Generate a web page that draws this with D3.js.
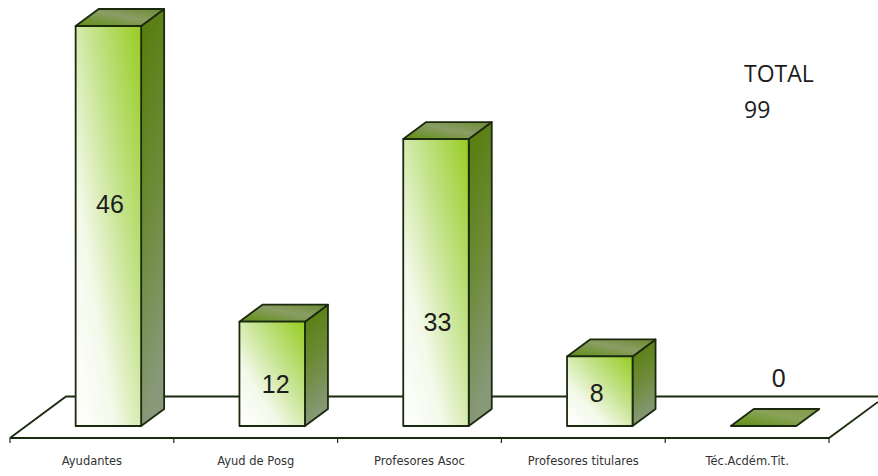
<!DOCTYPE html>
<html>
<head>
<meta charset="utf-8">
<script src="https://cdn.jsdelivr.net/npm/d3@7"></script>
<style>
  html, body { margin: 0; background: #fff; }
  svg { display: block; }
  .cat { font-family: "DejaVu Sans", sans-serif; font-size: 11.5px; fill: #333; text-anchor: middle; }
  .val { font-family: "Liberation Sans", Arial, sans-serif; font-size: 25px; fill: #1c1c1c; text-anchor: middle; dominant-baseline: central; }
  .total { font-family: "Open Sans", sans-serif; font-size: 23px; fill: #1c1c1c; }
</style>
</head>
<body>
<svg id="chart" width="878" height="476"></svg>
<script>
const categories = ["Ayudantes", "Ayud de Posg", "Profesores Asoc", "Profesores titulares", "Téc.Acdém.Tit."];
const values = [46, 12, 33, 8, 0];
const totalLines = ["TOTAL", "99"];

// Per-label placement relative to the bar's front face centre
const labelDx = [1.5, 3.5, 1.5, -3, 15];
const labelDy = [-22, 10, 39, 2, -48];

const floorFront = 438, floorBack = 396.5, floorLeft = 10, floorRight = 829;
const baseY = 426, barW = 65.5, depthX = 23, depthY = 17, barShift = 16.5;
const ink = "#1b2a0e";

const svg = d3.select("#chart");
const x = d3.scaleBand().domain(categories).range([floorLeft, floorRight]);
const y = d3.scaleLinear().domain([0, 46]).range([baseY, 26]);

const defs = svg.append("defs");
function gradient(id, p, stops) {
  const g = defs.append("linearGradient").attr("id", id)
    .attr("x1", p[0]).attr("y1", p[1]).attr("x2", p[2]).attr("y2", p[3]);
  stops.forEach(s => g.append("stop").attr("offset", s[0]).attr("stop-color", s[1]));
}
gradient("front", [0, 1, 1, 0], [[0, "#ffffff"], [0.3, "#f4f9ea"], [0.62, "#c4e38c"], [1, "#97cc22"]]);
gradient("side", [0, 0, 0.2, 1], [[0, "#557c0a"], [0.5, "#6c8a35"], [1, "#88997a"]]);
gradient("lid", [0, 1, 1, 0], [[0, "#5f8f12"], [0.55, "#8a9d66"], [1, "#6b8a2c"]]);
gradient("flat", [0, 1, 1, 0], [[0, "#5f8f12"], [0.6, "#8aa25a"], [1, "#7f9a48"]]);

// Floor plane, open where the bars stand in front of it
svg.append("path")
  .attr("d", d3.line()([[floorLeft, floorFront], [floorLeft + 56, floorBack], [878, floorBack]]))
  .attr("fill", "none").attr("stroke", ink).attr("stroke-width", 1.8);
svg.append("path")
  .attr("d", d3.line()([[floorLeft, floorFront], [floorRight, floorFront], [floorRight + 49, floorFront - 36]]))
  .attr("fill", "none").attr("stroke", ink).attr("stroke-width", 1.8);

// Category axis ticks and labels
const axis = d3.axisBottom(x).tickSize(0).tickPadding(0);
const ticks = x.domain().map(c => x(c)).concat(floorRight);
svg.selectAll(".tick-mark").data(ticks).join("line")
  .attr("class", "tick-mark")
  .attr("x1", d => d).attr("x2", d => d)
  .attr("y1", floorFront).attr("y2", floorFront + 5)
  .attr("stroke", ink).attr("stroke-width", 1.2);
svg.append("g").attr("transform", `translate(0,${floorFront})`).call(axis)
  .call(g => g.select(".domain").remove())
  .call(g => g.selectAll("text").attr("class", "cat").attr("y", 27).attr("dy", 0).attr("fill", null).attr("font-size", null).attr("font-family", null));

// Prism bars
const bars = svg.selectAll(".bar").data(categories.map((c, i) => ({ c, v: values[i], i })))
  .join("g").attr("class", "bar");

bars.each(function (d) {
  const g = d3.select(this);
  const cx = x(d.c) + x.bandwidth() / 2 + barShift;
  const l = cx - barW / 2, r = cx + barW / 2, t = y(d.v), b = y(0);
  const poly = pts => d3.line()(pts) + "Z";
  const stroke = sel => sel.attr("stroke", ink).attr("stroke-width", 1.8).attr("stroke-linejoin", "round");

  if (d.v === 0) {
    g.append("path").attr("d", poly([[l, b], [r, b], [r + depthX, b - depthY], [l + depthX, b - depthY]]))
      .attr("fill", "url(#flat)").call(stroke);
    return;
  }
  g.append("path").attr("d", poly([[r, t], [r + depthX, t - depthY], [r + depthX, b - depthY], [r, b]]))
    .attr("fill", "url(#side)").call(stroke);
  g.append("path").attr("d", poly([[l, t], [l + depthX, t - depthY], [r + depthX, t - depthY], [r, t]]))
    .attr("fill", "url(#lid)").call(stroke);
  g.append("rect").attr("x", l).attr("y", t).attr("width", barW).attr("height", b - t)
    .attr("fill", "url(#front)").call(stroke);
});

// Value labels
bars.append("text").attr("class", "val")
  .attr("x", d => x(d.c) + x.bandwidth() / 2 + barShift + labelDx[d.i])
  .attr("y", d => (y(d.v) + y(0)) / 2 + labelDy[d.i])
  .text(d => d.v);

// Total note
svg.append("g").selectAll("text").data(totalLines).join("text")
  .attr("class", "total").attr("x", 744)
  .attr("y", (d, i) => 82 + i * 36)
  .text(d => d);
</script>
</body>
</html>
